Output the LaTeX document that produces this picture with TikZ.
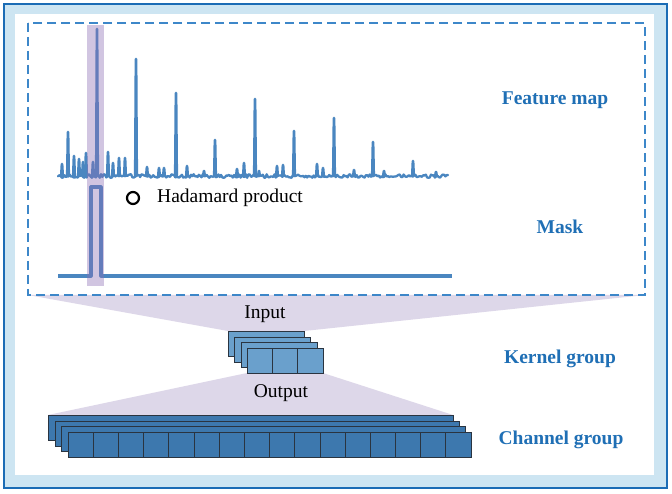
\documentclass[tikz,border=0pt]{standalone}
\usepackage{fontspec}
\setmainfont{Liberation Serif}
\definecolor{frameblue}{HTML}{1B6CB5}
\definecolor{framelight}{HTML}{CDE5F2}
\definecolor{dashblue}{HTML}{3D87C9}
\definecolor{sigblue}{HTML}{4A86C0}
\definecolor{lav}{HTML}{DDD7E9}
\definecolor{bandcol}{HTML}{8C6EB4}
\definecolor{kerncol}{HTML}{6AA0CC}
\definecolor{chancol}{HTML}{3D78AE}
\definecolor{celledge}{HTML}{2A3440}
\definecolor{labblue}{HTML}{1F6FB5}
\tikzset{
  sig/.style={draw=sigblue, line width=2.8pt, line join=round, line cap=round},
  lab/.style={font=\fontsize{19.5}{22}\selectfont\bfseries, text=labblue, inner sep=0pt},
  plain/.style={font=\fontsize{19.5}{22}\selectfont, text=black, inner sep=0pt},
  kcell/.style={fill=kerncol, draw=celledge, line width=0.8pt},
  ccell/.style={fill=chancol, draw=celledge, line width=0.8pt},
}
\begin{document}
\begin{tikzpicture}[x=1pt,y=-1pt]
\useasboundingbox (0,0) rectangle (672,494);
% frame
\fill[framelight] (4,4) rectangle (667,488);
\draw[frameblue, line width=2.8pt] (4,4) rectangle (667,488);
\fill[white] (15,14) rectangle (654,475);
% lavender trapezoids
\fill[lav] (28,295) -- (645,295) -- (304,331) -- (228,331) -- cycle;
\fill[lav] (247,373) -- (323,373) -- (453,415) -- (48,415) -- cycle;
% dashed box
\draw[dashblue, line width=1.5pt, dash pattern=on 9pt off 5pt] (28,23) rectangle (645,295);
% feature map baseline noise
\pgfmathsetseed{7}
\draw[sig, line width=2.3pt] plot[samples=300, domain=58:448] (\x, {176+1.8*rand});
% spikes
\foreach \sx/\sy in {62/164,68/132,74/156,79/159,83/162,86/153,93/162,97/29,108/152,113/163,119/158,125/158,136/59,147/167,159/168,164/168,176/93,187/166,204/171,215/140,237/169,244/163,255/99,259/171,277/166,283/165,294/131,317/164,323/168,334/118,354/170,373/142,384/171,413/161,436/172}
  \draw[sig] (\sx-0.7,176) -- (\sx,\sy) -- (\sx+0.7,176);
% mask
\draw[sig, line width=3.2pt, line cap=butt] (58,276) -- (91,276) -- (91,187) -- (101,187) -- (101,276) -- (452,276);
% highlight band
\fill[bandcol, opacity=0.4] (87,25) rectangle (104,286);
% hadamard
\draw[black, line width=2.2pt] (133,198) circle (6);
\node[plain, anchor=west] (had) at (157,198) {Hadamard product};
% labels
\node[lab] (fm) at (555,100) {Feature map};
\node[lab] (mask) at (560,227) {Mask};
\node[lab] (kg) at (560,359) {Kernel group};
\node[lab] (cg) at (561,440) {Channel group};
\node[plain] (inp) at (265,314) {Input};
\node[plain] (outp) at (281,393) {Output};
% kernel group stack
\draw[kcell] (228,331) rectangle (304,356);
\draw[kcell] (234,337) rectangle (310,362);
\draw[kcell] (241,342) rectangle (317,367);
\foreach \i in {0,1,2}
  \draw[kcell] ({247+\i*25.33},348) rectangle ({247+(\i+1)*25.33},373);
% channel group stack
\draw[ccell] (48,415) rectangle (453,440);
\draw[ccell] (55,421) rectangle (459,446);
\draw[ccell] (61,426) rectangle (465,451);
\foreach \i in {0,...,15}
  \draw[ccell] ({68+\i*25.19},432) rectangle ({68+(\i+1)*25.19},457);
\end{tikzpicture}
\end{document}
